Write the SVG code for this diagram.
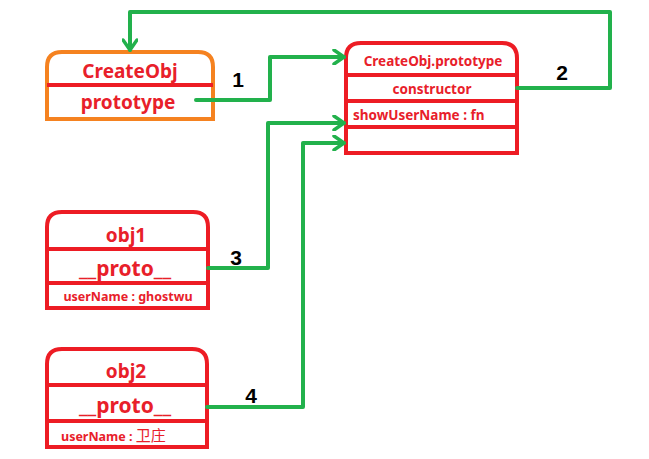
<svg xmlns="http://www.w3.org/2000/svg" width="649" height="459" viewBox="0 0 649 459">
<style>
.box{fill:#fff;stroke:#ed1c24;stroke-width:4}
.org{fill:#fff;stroke:#f58220;stroke-width:4}
.div{stroke:#ed1c24;stroke-width:4}
.t{fill:#e8202a;font-family:"Noto Sans","Liberation Sans",sans-serif;font-weight:bold;text-anchor:middle}
.big{font-size:19px}
.pr{font-size:21px}
.sm{font-size:13.5px}
.xs{font-size:12.5px}
.conn{fill:none;stroke:#22b14c;stroke-width:4;stroke-linejoin:round;stroke-linecap:round}
.num{fill:#000;font-family:"Liberation Sans",sans-serif;font-weight:bold;font-size:21px;text-anchor:middle}
</style>
<defs>
<marker id="arr" viewBox="0 0 14 16" refX="12" refY="8" markerWidth="14" markerHeight="16" markerUnits="userSpaceOnUse" orient="auto">
<path d="M2,1 L12,8 L2,15" fill="none" stroke="#22b14c" stroke-width="3.5" stroke-linecap="round" stroke-linejoin="round"/>
</marker>
</defs>
<g id="CreateObj">
<path class="org" d="M47,119 V67 Q47,52 62,52 H198 Q213,52 213,67 V119 Z"/>
<line class="div" x1="47" y1="85" x2="213" y2="85"/>
<text class="t big" x="130" y="78">CreateObj</text>
<text class="t big" x="128" y="109">prototype</text>
</g>
<g id="CreateObjPrototype">
<path class="box" d="M346,153 V58 Q346,43 361,43 H502 Q517,43 517,58 V153 Z"/>
<line class="div" x1="346" y1="75" x2="517" y2="75"/>
<line class="div" x1="346" y1="101" x2="517" y2="101"/>
<line class="div" x1="346" y1="127" x2="517" y2="127"/>
<text class="t sm" x="433" y="66">CreateObj.prototype</text>
<text class="t sm" x="432" y="94">constructor</text>
<text class="t sm" x="353" y="120" style="text-anchor:start">showUserName : fn</text>
</g>
<g id="obj1">
<path class="box" d="M47,308 V227 Q47,212 62,212 H193 Q208,212 208,227 V308 Z"/>
<line class="div" x1="47" y1="249" x2="208" y2="249"/>
<line class="div" x1="47" y1="283" x2="208" y2="283"/>
<text class="t big" x="126" y="242">obj1</text>
<text class="t pr" x="125" y="276">__proto__</text>
<text class="t xs" x="128" y="301">userName : ghostwu</text>
</g>
<g id="obj2">
<path class="box" d="M47,447 V364 Q47,349 62,349 H192 Q207,349 207,364 V447 Z"/>
<line class="div" x1="47" y1="385" x2="207" y2="385"/>
<line class="div" x1="47" y1="421" x2="207" y2="421"/>
<text class="t big" x="126" y="378">obj2</text>
<text class="t pr" x="125" y="413">__proto__</text>
<text class="t xs" x="61" y="441" style="text-anchor:start;font-family:'Noto Sans','Noto Sans CJK SC',sans-serif">userName :  <tspan style="font-weight:normal;font-size:15px">卫庄</tspan></text>
</g>
<g id="connectors">
<polyline class="conn" points="196,100 270,100 270,57 344,57" marker-end="url(#arr)"/>
<polyline class="conn" points="517,88 610,88 610,12 130,12 130,50" marker-end="url(#arr)"/>
<polyline class="conn" points="208,268 268,268 268,123 344,123" marker-end="url(#arr)"/>
<polyline class="conn" points="207,407 303,407 303,143 344,143" marker-end="url(#arr)"/>
<text class="num" x="238" y="87">1</text>
<text class="num" x="562" y="80">2</text>
<text class="num" x="236" y="265">3</text>
<text class="num" x="251" y="403">4</text>
</g>
</svg>
